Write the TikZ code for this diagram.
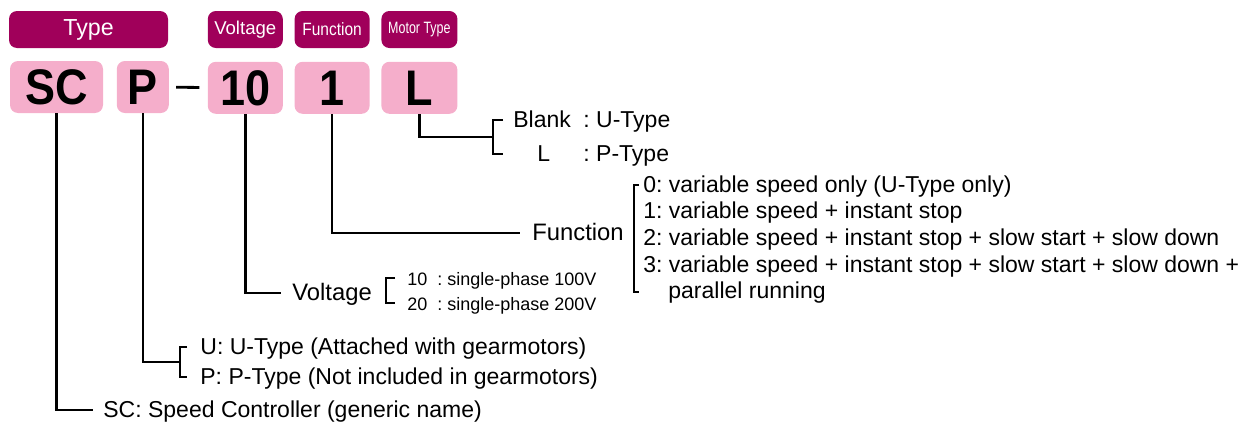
\documentclass[tikz,border=0pt]{standalone}
\usepackage{fontspec}
\setmainfont{Liberation Sans}
\newfontfamily\hdnarrow[FakeStretch=0.87]{Liberation Sans}
\newfontfamily\hdnarrower[FakeStretch=0.76]{Liberation Sans}
\newfontfamily\codefont[FakeStretch=0.9]{Liberation Sans}
\usepackage{xcolor}
\usepackage{tikz}
\usetikzlibrary{positioning}
\definecolor{hdmagenta}{RGB}{160,0,90}
\definecolor{codepink}{RGB}{245,174,203}
\frenchspacing
\tikzset{
  hdbox/.style={rectangle, rounded corners=4pt, minimum width=37.5pt,
    minimum height=18.5pt, inner sep=0pt, fill=hdmagenta, text=white},
  codebox/.style={rectangle, rounded corners=4pt, minimum width=37.5pt,
    minimum height=26pt, inner sep=0pt, fill=codepink,
    font=\codefont\bfseries\fontsize{25}{28}\selectfont},
  conn/.style={line width=1.3pt},
  brk/.style={line width=1pt},
  dashbar/.style={line width=1.4pt, shorten <=3.5pt, shorten >=4pt},
  lbl/.style={anchor=west, inner sep=0pt, text height=0.716em, text depth=0pt,
    font=\fontsize{11.5}{13}\selectfont},
  smlbl/.style={lbl, font=\fontsize{9}{11}\selectfont},
}
\begin{document}
\begin{tikzpicture}[x=0.5pt, y=-0.5pt]
  \useasboundingbox (0,0) rectangle (1247,428);
  % header tabs
  \node[hdbox, minimum width=79.5pt, font=\fontsize{11.6}{13}\selectfont] (hdtype) at (88.5,29.5) {Type};
  \node[hdbox, right=19.5pt of hdtype, font=\fontsize{9.3}{11}\selectfont] (hdvolt) {Voltage};
  \node[hdbox, right=5.5pt of hdvolt, font=\hdnarrow\fontsize{8.9}{10}\selectfont] (hdfunc) {Function};
  \node[hdbox, right=5.5pt of hdfunc, minimum width=38pt, font=\hdnarrower\fontsize{8.2}{10}\selectfont] (hdmotor) {Motor Type};
  % code letters
  \node[codebox, minimum width=46.5pt] (cSC) at (56.5,87) {SC};
  \node[codebox, right=6.5pt of cSC, minimum width=26pt] (cP) {P};
  \node[codebox, below=6.5pt of hdvolt] (cVolt) {10};
  \node[codebox, below=6.5pt of hdfunc] (cFunc) {1};
  \node[codebox, below=6.5pt of hdmotor, minimum width=38pt] (cMotor) {L};
  \draw[dashbar] (cP) -- (cVolt);

  % texts
  \node[lbl] (sclbl) at (103,410) {SC: Speed Controller (generic name)};
  \node[lbl] (uitem) at (200,347) {U: U-Type (Attached with gearmotors)};
  \node[lbl] (pitem) at (200,377) {P: P-Type (Not included in gearmotors)};
  \node[lbl, font=\fontsize{11.9}{13}\selectfont] (vlbl) at (292,293) {Voltage};
  \node[smlbl] (v10) at (407,278) {\makebox[15pt][l]{10}: single-phase 100V};
  \node[smlbl] (v20) at (407,303) {\makebox[15pt][l]{20}: single-phase 200V};
  \node[lbl, font=\fontsize{11.9}{13}\selectfont] (flbl) at (532,233) {Function};
  \node[lbl] (f0) at (643,185) {0: variable speed only (U-Type only)};
  \node[lbl] (f1) at (643,211.7) {1: variable speed + instant stop};
  \node[lbl] (f2) at (643,238.4) {2: variable speed + instant stop + slow start + slow down};
  \node[lbl] (f3) at (643,265.1) {3: variable speed + instant stop + slow start + slow down +};
  \node[lbl] (fpar) at (668,291.8) {parallel running};
  \node[lbl] (mblank) at (513,120) {\makebox[35pt][l]{Blank}: U-Type};
  \node[lbl] (mL) at (513,154) {\makebox[35pt][l]{\hspace{12pt}L}: P-Type};

  % bracket joints
  \coordinate (pbrk) at (180,362);
  \coordinate (vbrk) at (386,291);
  \coordinate (fbrk) at (634,238);
  \coordinate (mbrk) at (493,137);

  % connectors
  \draw[conn, shorten >=5pt] (cSC.south) |- (sclbl.west);
  \draw[conn] (cP.south) |- (pbrk);
  \draw[brk] ([xshift=-6.5pt]uitem.west) -| (pbrk) |- ([xshift=-6.5pt]pitem.west);
  \draw[conn, shorten >=5.5pt] (cVolt.south) |- (vlbl.west);
  \draw[brk] ([xshift=-6pt]v10.west) -| (vbrk) |- ([xshift=-6pt]v20.west);
  \draw[conn, shorten >=6pt] (cFunc.south) |- (flbl.west);
  \draw[brk] ([xshift=-2pt]f0.west) -| (fbrk) |- ([xshift=-14.5pt]fpar.west);
  \draw[conn] (cMotor.south) |- (mbrk);
  \draw[brk] ([xshift=-5pt]mblank.west) -| (mbrk) |- ([xshift=-5pt]mL.west);
\end{tikzpicture}
\end{document}
